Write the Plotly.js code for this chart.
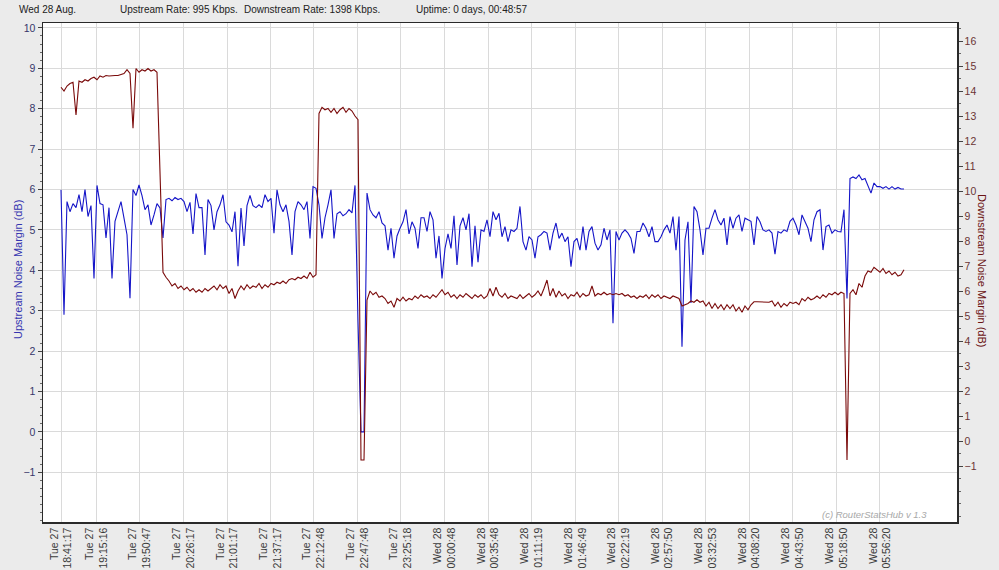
<!DOCTYPE html>
<html>
<head>
<meta charset="utf-8">
<script src="https://cdn.plot.ly/plotly-3.0.1.min.js"></script>
<style>html,body{margin:0;padding:0;background:#ebebeb;}#chart{width:999px;height:570px;}</style>
</head>
<body>
<div id="chart"></div>
<script>
// Upstream noise margin (dB), left axis — one reading per sample
const upstream = [
 5.99, 2.9, 5.70, 5.45, 5.65, 5.55, 5.87, 5.45, 6.0, 5.33,
 5.6, 3.8, 6.1, 5.65, 5.62, 4.8, 5.55, 3.8, 5.21, 5.45,
 5.7, 5.29, 4.88, 3.31, 6.0, 5.85, 6.11, 5.85, 5.5, 5.62,
 5.12, 5.37, 5.65, 5.54, 4.8, 5.75, 5.78, 5.72, 5.8, 5.75,
 5.78, 5.7, 5.45, 5.68, 4.9, 5.9, 5.55, 5.55, 4.38, 5.75,
 5.6, 5.0, 5.45, 5.62, 5.87, 5.2, 5.12, 4.95, 5.45, 4.1,
 5.54, 4.6, 5.6, 5.85, 5.6, 5.55, 5.62, 5.55, 5.87, 5.7,
 5.78, 4.92, 5.99, 5.62, 5.45, 5.62, 5.21, 4.38, 5.45, 5.7,
 5.62, 5.5, 5.7, 4.79, 6.07, 6.03, 5.62, 4.79, 5.3, 5.62,
 5.99, 4.79, 5.4, 5.45, 5.35, 5.4, 5.5, 5.42, 6.1, 2.73,
 0, 0, 5.91, 5.5, 5.37, 5.3, 5.45, 5.17, 5.1, 4.5,
 5.04, 4.3, 4.85, 5.04, 5.2, 5.5, 4.9, 5.2, 5.04, 4.54,
 5.3, 5.3, 4.96, 5.45, 5.25, 4.3, 4.85, 3.8, 4.54, 4.9,
 4.54, 5.35, 4.13, 5.1, 5.3, 5.0, 5.4, 4.09, 5.1, 4.2,
 5.0, 4.96, 5.25, 4.83, 5.45, 5.25, 5.41, 4.83, 5.08, 4.71,
 5.0, 4.96, 5.04, 5.58, 4.71, 4.5, 4.83, 4.75, 4.3, 4.83,
 4.88, 4.96, 4.92, 4.5, 4.92, 5.17, 4.79, 4.92, 4.71, 4.83,
 4.09, 4.71, 4.79, 4.5, 5.08, 4.5, 4.96, 5.08, 4.67, 4.5,
 4.63, 5.04, 4.75, 5.0, 2.69, 4.96, 4.75, 4.92, 5.0, 4.92,
 4.79, 4.42, 4.96, 4.96, 5.17, 5.04, 4.83, 5.08, 4.71, 4.71,
 4.83, 5.0, 5.12, 4.92, 5.33, 4.5, 5.33, 2.11, 4.75, 5.2,
 3.19, 5.58, 5.45, 5.0, 4.38, 5.04, 5.04, 5.29, 5.5, 5.25,
 5.12, 5.29, 4.63, 5.33, 5.04, 5.29, 5.37, 4.96, 5.29, 5.25,
 5.21, 4.63, 5.33, 5.2, 5.0, 4.96, 5.0, 4.92, 4.4, 4.96,
 4.92, 5.0, 4.96, 5.21, 5.29, 5.12, 4.88, 5.37, 5.21, 5.04,
 4.71, 5.25, 5.45, 5.5, 4.5, 5.08, 5.12, 4.92, 5.0, 4.96,
 4.95, 5.5, 3.3, 6.27, 6.31, 6.27, 6.36, 6.24, 6.27, 6.11,
 5.91, 6.16, 6.07, 6.07, 6.03, 6.07, 6.01, 6.07, 6.01, 6.05,
 6.01, 6.01
];

// Downstream noise margin (dB), right axis — one reading per sample
const downstream = [
 14.15, 14.0, 14.2, 14.3, 14.35, 13.04, 14.4, 14.35, 14.45, 14.4,
 14.5, 14.55, 14.45, 14.6, 14.55, 14.62, 14.6, 14.62, 14.62, 14.62,
 14.65, 14.7, 14.85, 14.7, 12.51, 14.9, 14.75, 14.85, 14.8, 14.9,
 14.8, 14.85, 14.75, 10.6, 6.75, 6.55, 6.4, 6.2, 6.3, 6.1,
 6.2, 6.05, 6.15, 6.0, 6.1, 5.95, 6.05, 5.95, 6.1, 6.0,
 6.1, 6.2, 6.05, 6.25, 6.1, 6.2, 5.9, 6.1, 5.7, 6.0,
 6.2, 6.05, 6.25, 6.1, 6.2, 6.15, 6.3, 6.1, 6.25, 6.15,
 6.3, 6.25, 6.35, 6.3, 6.4, 6.3, 6.45, 6.5, 6.45, 6.55,
 6.5, 6.6, 6.5, 6.75, 6.55, 6.65, 13.1, 13.35, 13.25, 13.3,
 13.15, 13.3, 13.1, 13.25, 13.35, 13.15, 13.3, 13.2, 13.0, 12.85,
 -0.76, -0.76, 5.64, 6.0, 5.85, 5.95, 5.75, 5.8, 5.7, 5.5,
 5.6, 5.35, 5.7, 5.6, 5.75, 5.6, 5.7, 5.65, 5.8, 5.7,
 5.85, 5.75, 5.8, 5.7, 5.85, 5.75, 5.9, 6.05, 5.85, 5.95,
 5.75, 5.85, 5.7, 5.85, 5.75, 5.9, 5.8, 5.7, 5.85, 5.75,
 5.85, 5.7, 5.8, 6.1, 5.8, 6.15, 5.85, 5.75, 5.9, 5.7,
 5.8, 5.75, 5.7, 5.85, 5.7, 5.8, 5.9, 5.75, 5.85, 6.0,
 5.8, 6.1, 6.44, 5.8, 6.1, 5.75, 6.0, 5.8, 5.9, 5.7,
 5.85, 5.8, 5.95, 5.75, 5.9, 5.8, 5.85, 6.2, 5.8, 5.9,
 5.85, 5.95, 5.85, 5.9, 5.85, 5.9, 5.85, 5.9, 5.8, 5.85,
 5.75, 5.8, 5.7, 5.8, 5.75, 5.85, 5.7, 5.85, 5.75, 5.85,
 5.7, 5.8, 5.75, 5.7, 5.8, 5.75, 5.7, 5.4, 5.45, 5.5,
 5.6, 5.55, 5.65, 5.55, 5.6, 5.4, 5.55, 5.3, 5.5, 5.3,
 5.45, 5.25, 5.45, 5.3, 5.45, 5.2, 5.35, 5.15, 5.4, 5.25,
 5.45, 5.57, 5.57, 5.57, 5.57, 5.57, 5.55, 5.6, 5.4, 5.55,
 5.35, 5.5, 5.4, 5.55, 5.5, 5.55, 5.45, 5.7, 5.6, 5.75,
 5.65, 5.7, 5.8, 5.7, 5.85, 5.75, 5.9, 5.85, 5.95, 5.85,
 5.95, 5.9, -0.76, 5.9, 6.05, 5.85, 6.3, 6.15, 6.6, 6.8,
 6.75, 6.95, 6.85, 6.75, 6.9, 6.7, 6.8, 6.65, 6.75, 6.6,
 6.65, 6.85
];

// Tick labels (sample index where each label sits, day, time)
const tickSample = [0, 11.9, 26.3, 40.8, 55.4, 69.9, 84.3, 98.8, 113.3, 127.8, 142.4, 156.9, 171.6, 185.8, 200.4, 214.9, 229.4, 243.9, 258.6, 273];
const tickDay = ["Tue 27","Tue 27","Tue 27","Tue 27","Tue 27","Tue 27","Tue 27","Tue 27","Tue 27",
                 "Wed 28","Wed 28","Wed 28","Wed 28","Wed 28","Wed 28","Wed 28","Wed 28","Wed 28","Wed 28","Wed 28"];
const tickTime = ["18:41:17","19:15:16","19:50:47","20:26:17","21:01:17","21:37:17","22:12:48","22:47:48","23:25:18",
                  "00:00:48","00:35:48","01:11:19","01:46:49","02:22:19","02:57:50","03:32:53","04:08:20","04:43:50","05:18:50","05:56:20"];
const leftTicks = [-1,0,1,2,3,4,5,6,7,8,9,10];
const rightTicks = [-1,0,1,2,3,4,5,6,7,8,9,10,11,12,13,14,15,16];

const headerDate = "Wed 28 Aug.";
const headerUp = "Upstream Rate: 995 Kbps.";
const headerDown = "Downstream Rate: 1398 Kbps.";
const headerUptime = "Uptime: 0 days, 00:48:57";
const leftTitle = "Upstream Noise Margin (dB)";
const rightTitle = "Downstream Noise Margin (dB)";
const watermark = "(c) RouterStatsHub v 1.3";

const sampleIdx = upstream.map((_, i) => i);
const tickText = tickDay.map((d, i) => d + "<br>" + tickTime[i]);

const FONT = "Liberation Sans, Arial, sans-serif";
const px = p => (p - 43) / 914;   // figure pixel -> paper x

const traces = [
  {x: sampleIdx, y: downstream, type: "scatter", mode: "lines", yaxis: "y2",
   line: {color: "#7a0a0a", width: 1.1}, hoverinfo: "skip"},
  {x: sampleIdx, y: upstream, type: "scatter", mode: "lines", yaxis: "y",
   line: {color: "#1515c8", width: 1.1}, hoverinfo: "skip"}
];

const hdrFont = {family: FONT, size: 10, color: "#222"};

const layout = {
  width: 999, height: 570,
  paper_bgcolor: "#ebebeb", plot_bgcolor: "#ffffff",
  margin: {l: 43, r: 42, t: 23, b: 48, pad: 0},
  showlegend: false,
  font: {family: FONT, size: 10.5, color: "#333333"},
  xaxis: {
    range: [-6, 298.67], tickmode: "array", tickvals: tickSample, ticktext: tickText,
    tickangle: -90, showgrid: true, gridcolor: "#dadada", gridwidth: 1, zeroline: false,
    showline: true, linecolor: "#2a2a2a", linewidth: 1.5, mirror: true, ticks: "",
    tickfont: {family: FONT, size: 10.5, color: "#3a3a3a"}, fixedrange: true
  },
  yaxis: {
    range: [-2.23, 10.12], tickmode: "array", tickvals: leftTicks,
    showgrid: true, gridcolor: "#dadada", gridwidth: 1, zeroline: false,
    showline: true, linecolor: "#2a2a2a", linewidth: 1.5,
    ticks: "outside", ticklen: 4, tickcolor: "#444", tickwidth: 1,
    tickfont: {family: FONT, size: 10.5, color: "#36366a"},
    minor: {dtick: 0.2, tick0: 0, ticks: "outside", ticklen: 2, tickcolor: "#666", showgrid: false},
    fixedrange: true
  },
  yaxis2: {
    overlaying: "y", side: "right", anchor: "x",
    range: [-3.24, 16.72], tickmode: "array", tickvals: rightTicks,
    showgrid: false, zeroline: false,
    showline: true, linecolor: "#2a2a2a", linewidth: 1.5,
    ticks: "outside", ticklen: 4, tickcolor: "#444", tickwidth: 1,
    tickfont: {family: FONT, size: 10.5, color: "#6a3434"},
    minor: {dtick: 0.5, tick0: 0, ticks: "outside", ticklen: 2, tickcolor: "#666", showgrid: false},
    fixedrange: true
  },
  annotations: [
    {text: headerDate, xref: "paper", yref: "paper", x: px(17), y: 1.028, xanchor: "left", yanchor: "middle", showarrow: false, font: hdrFont},
    {text: headerUp, xref: "paper", yref: "paper", x: px(118), y: 1.028, xanchor: "left", yanchor: "middle", showarrow: false, font: hdrFont},
    {text: headerDown, xref: "paper", yref: "paper", x: px(242), y: 1.028, xanchor: "left", yanchor: "middle", showarrow: false, font: hdrFont},
    {text: headerUptime, xref: "paper", yref: "paper", x: px(414), y: 1.028, xanchor: "left", yanchor: "middle", showarrow: false, font: hdrFont},
    {text: leftTitle, xref: "paper", yref: "paper", x: px(18), y: 0.505, xanchor: "center", yanchor: "middle", textangle: -90, showarrow: false, font: {family: FONT, size: 11, color: "#3535b0"}},
    {text: rightTitle, xref: "paper", yref: "paper", x: px(982), y: 0.505, xanchor: "center", yanchor: "middle", textangle: 90, showarrow: false, font: {family: FONT, size: 11, color: "#6b1414"}},
    {text: "<i>" + watermark + "</i>", xref: "paper", yref: "paper", x: px(929), y: 0, xanchor: "right", yanchor: "bottom", showarrow: false, font: {family: FONT, size: 9.5, color: "#a8a8a8"}}
  ]
};

Plotly.newPlot("chart", traces, layout, {staticPlot: true, displayModeBar: false});
</script>
</body>
</html>
